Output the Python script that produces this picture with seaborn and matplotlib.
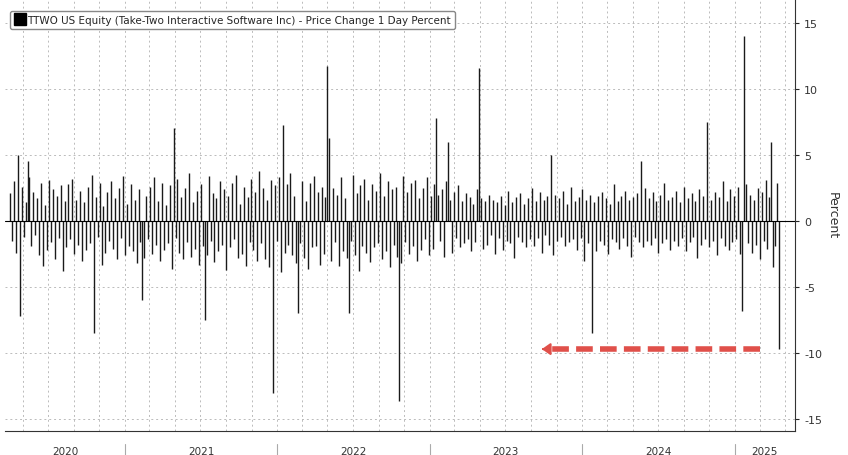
import numpy as np, pandas as pd
import matplotlib
matplotlib.use("Agg")
import matplotlib.pyplot as plt
import matplotlib.dates as mdates
import seaborn as sns
from matplotlib.lines import Line2D

sns.set_style("white")
plt.rcParams['font.family'] = ['DejaVu Sans']

base = [
 2.1,-1.5,3.0,-2.4,1.8,-3.1,2.6,-1.2,1.4,-2.8,3.3,-1.9,2.2,-1.1,1.7,-2.6,2.9,-3.4,
 1.2,-2.2,3.1,-1.6,2.4,-2.9,1.9,-1.3,2.7,-3.8,1.5,-2.0,2.8,-1.4,3.2,-2.5,1.6,-1.8,
 2.3,-3.0,1.4,-2.2,2.6,-1.7,3.5,-2.7,1.8,-1.2,2.9,-3.3,1.1,-2.4,2.2,-1.5,3.0,-2.1,
 1.7,-2.9,2.5,-1.3,3.4,-2.6,1.3,-1.9,2.8,-2.3,1.6,-3.2,2.4,-1.6,3.1,-2.8,1.9,-1.4,
 2.6,-2.5,3.3,-1.8,1.5,-3.0,2.9,-2.2,1.2,-1.7,2.7,-3.6,2.0,-1.3,3.2,-2.4,1.8,-2.9,
 2.5,-1.6,3.6,-2.7,1.4,-2.1,2.3,-3.3,2.8,-1.9,1.6,-2.6,3.4,-1.5,2.1,-3.1,1.7,-2.3,
 3.0,-1.8,2.4,-3.7,1.9,-2.0,2.9,-1.4,3.5,-2.8,1.3,-2.5,2.6,-3.4,1.8,-1.6,3.2,-2.2,
 2.2,-3.0,3.8,-1.7,2.5,-2.9,1.6,-3.5,3.1,-2.1,2.7,-1.5,3.3,-3.9,2.0,-2.4,2.8,-1.8,
 3.6,-2.6,1.9,-3.2,2.4,-1.7,3.0,-2.8,1.5,-3.6,2.9,-2.0,3.4,-1.9,2.2,-3.3,2.6,-2.5,
 1.8,-2.2,3.1,-3.0,2.5,-1.6,2.0,-3.4,3.3,-2.3,1.7,-2.8,2.9,-1.5,3.5,-2.6,2.1,-3.8,
 2.7,-1.9,3.2,-2.4,1.6,-3.1,2.8,-2.0,2.3,-1.7,3.6,-2.9,1.9,-2.3,3.0,-3.5,2.4,-1.8,
 2.6,-2.7,1.8,-3.2,3.4,-1.6,2.2,-2.5,2.9,-1.9,3.1,-3.0,1.7,-2.2,2.5,-1.4,3.3,-2.6,
 1.9,-2.1,2.8,-3.3,2.0,-1.5,2.4,-2.7,3.0,-1.8,1.6,-2.4,2.2,-1.3,2.7,-2.0,1.5,-1.7,
 2.1,-1.4,1.8,-2.3,1.3,-1.6,2.4,-1.2,1.7,-2.1,1.5,-1.8,2.0,-1.1,1.6,-2.5,1.4,-1.3,
 1.9,-2.2,1.2,-1.5,2.3,-1.7,1.4,-2.8,1.8,-1.2,2.1,-1.6,1.3,-2.0,1.7,-1.4,2.5,-1.9,
 1.5,-1.3,2.2,-2.4,1.6,-1.1,1.9,-1.8,1.4,-2.6,2.0,-1.5,1.7,-1.2,2.3,-1.9,1.3,-1.6,
 2.6,-1.4,1.5,-2.2,1.8,-1.3,2.4,-3.0,1.6,-1.7,2.0,-1.2,1.4,-2.3,1.9,-1.5,2.2,-1.8,
 1.7,-2.5,1.3,-1.4,2.8,-1.6,1.5,-2.1,1.9,-1.3,2.3,-1.9,1.6,-2.7,1.8,-1.2,2.1,-1.6,
 1.4,-2.0,2.5,-1.5,1.7,-1.8,2.2,-1.3,1.5,-2.4,2.0,-1.7,2.9,-1.4,1.6,-2.2,1.8,-1.5,
 2.3,-1.9,1.4,-1.3,2.6,-2.3,1.7,-1.6,2.1,-1.2,1.5,-2.8,2.4,-1.8,1.9,-1.4,2.7,-2.0,
 1.6,-1.5,2.2,-2.6,1.8,-1.3,3.0,-1.9,1.5,-2.2,2.4,-1.6,1.9,-1.4,2.6,-2.5,1.7,-2.0,
 2.8,-1.7,2.0,-2.4,1.6,-1.8,2.5,-2.9,2.2,-1.5,3.1,-2.1,1.8,-2.6,2.4,-1.9,2.9,-1.6,
]
# large moves: sample index -> % change
spikes = {4: 5.0, 5: -7.2, 9: 4.5, 43: -8.5, 68: -6.0, 84: 7.0, 100: -7.5,
          135: -13.0, 140: 7.3, 148: -7.0, 163: 11.7, 164: 6.3, 174: -7.0,
          200: -13.6, 219: 7.8, 225: 6.0, 241: 11.6, 278: 5.0, 299: -8.5,
          324: 4.5, 358: 7.5, 376: -6.8, 377: 14.0, 391: 6.0, 392: -3.5, 395: -9.7}
values = list(base)
for k, v in spikes.items():
    values[k] = v
years = ["2020", "2021", "2022", "2023", "2024", "2025"]

dates = pd.date_range("2020-04-01", "2025-04-17", periods=len(values))

fig = plt.figure(figsize=(8.48, 4.56), dpi=100)
ax = fig.add_axes([5/848, 1 - 432/456, 790/848, 432/456])
ax.vlines(dates, 0, values, color="#1a1a1a", lw=1.0)
ax.axhline(0, color="black", lw=0.8)

ax.set_xlim(pd.Timestamp("2020-03-20"), pd.Timestamp("2025-05-25"))
ax.set_ylim(-15.9, 16.8)
ax.yaxis.tick_right()
ax.yaxis.set_label_position("right")
ax.set_yticks([-15, -10, -5, 0, 5, 10, 15])
ax.set_yticklabels(["-15", "-10", "-5", "0", "5", "10", "15"], fontsize=8, color="#333")
ax.set_ylabel("Percent", rotation=270, labelpad=12, fontsize=9, color="#333")
ax.tick_params(axis="y", length=3, direction="out")
ax.xaxis.set_major_locator(mdates.MonthLocator(bymonth=[1, 3, 5, 7, 9, 11]))
ax.xaxis.set_minor_locator(mdates.MonthLocator())
ax.xaxis.set_major_formatter(plt.NullFormatter())
ax.tick_params(axis="x", which="both", length=3, direction="out")
ax.grid(True, which="major", ls=(0, (2, 3)), color="#bbbbbb", lw=0.7)
for s in ["top", "left"]:
    ax.spines[s].set_visible(False)
ax.spines["right"].set_color("#333")
ax.spines["bottom"].set_color("#333")

for i, y in enumerate(years):
    y0 = pd.Timestamp(f"{y}-01-01")
    y1 = min(pd.Timestamp(f"{int(y)+1}-01-01"), pd.Timestamp("2025-05-25"))
    lo = max(y0, pd.Timestamp("2020-03-20"))
    mid = lo + (y1 - lo) / 2
    ax.text(mid, -0.035, y, transform=ax.get_xaxis_transform(), ha="center",
            va="top", fontsize=7.5, color="#333")
    if i > 0:
        ax.plot([y0, y0], [-0.03, -0.07], transform=ax.get_xaxis_transform(),
                color="#aaa", lw=0.8, clip_on=False)

# red dashed arrow
a0 = pd.Timestamp("2025-03-01")
ax.plot([a0, pd.Timestamp("2023-10-05")], [-9.7, -9.7], color="#e0504a", lw=4,
        ls=(0, (3.0, 1.3)), solid_capstyle="butt")
ax.annotate("", xy=(pd.Timestamp("2023-09-20"), -9.7), xytext=(pd.Timestamp("2023-10-08"), -9.7),
            arrowprops=dict(arrowstyle="-|>,head_width=0.35,head_length=0.5",
                            color="#e0504a", lw=1.5))

h = Line2D([], [], marker="s", color="black", ls="", markersize=8)
leg = ax.legend([h], ["TTWO US Equity (Take-Two Interactive Software Inc) - Price Change 1 Day Percent"],
                loc="upper left", bbox_to_anchor=(0.0, 0.985), fontsize=7.5,
                handletextpad=0.2, borderpad=0.4, fancybox=True, framealpha=1,
                edgecolor="#888", handlelength=1)
fig.savefig("out.png", dpi=100)
